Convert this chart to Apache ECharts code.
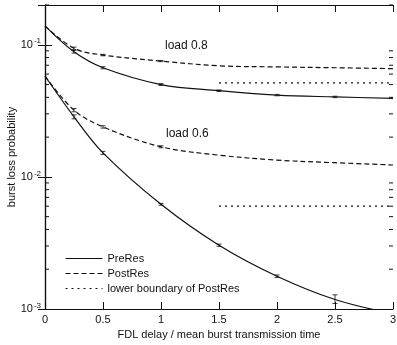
<!DOCTYPE html>
<html><head><meta charset="utf-8">
<script src="https://cdn.jsdelivr.net/npm/echarts@6/dist/echarts.min.js"></script>
<style>html,body{margin:0;padding:0;background:#fff}#c{width:397px;height:345px}</style>
</head><body><div id="c"></div>
<script>
// ---- data ----
const xVals = [0, 0.25, 0.5, 1, 1.5, 2, 2.5, 3];
const preRes08  = [0.139, 0.0885, 0.067, 0.050, 0.0449, 0.0416, 0.0403, 0.0393];
const postRes08 = [0.139, 0.094, 0.0836, 0.0753, 0.0693, 0.068, 0.067, 0.066];
const preRes06  = [0.058, 0.0285, 0.0152, 0.0062, 0.00304, 0.00177, 0.00118, 0.00092];
const postRes06 = [0.058, 0.032, 0.0239, 0.0169, 0.0146, 0.0134, 0.0128, 0.0123];
const lowerX = [1.5, 3];
const lower08 = [0.0515, 0.0515];
const lower06 = [0.0060, 0.0060];
// error bars: [x, low, high]
const errBars = [
  [0.25, 0.0865, 0.0905], [0.25, 0.0920, 0.0960],
  [0.5, 0.0658, 0.0682], [0.5, 0.0825, 0.0847],
  [1, 0.0492, 0.0508], [1, 0.0745, 0.0761],
  [1.5, 0.0443, 0.0455], [2, 0.0411, 0.0421], [2.5, 0.0398, 0.0408],
  [0.25, 0.0275, 0.0295], [0.25, 0.0311, 0.0329],
  [0.5, 0.0148, 0.0156], [0.5, 0.0234, 0.0244],
  [1, 0.0061, 0.0063], [1, 0.0166, 0.0172],
  [1.5, 0.00298, 0.00310], [2, 0.00173, 0.00181], [2.5, 0.00110, 0.00128]
];
const xTicks = ['0', '0.5', '1', '1.5', '2', '2.5', '3'];
const minorTickVals = [];
[0.001, 0.01, 0.1].forEach(d => { for (let m = 2; m <= 9; m++) { const v = m * d; if (v < 0.2 + 1e-9) minorTickVals.push(v); } });

const pairs = (xs, ys) => xs.map((x, i) => [x, ys[i]]);
const FONT = '"Liberation Sans", Arial, sans-serif';

const chart = echarts.init(document.getElementById('c'), null, {renderer: 'canvas'});
const axisLineStyle = {color: '#111', width: 1.2};
const lineBase = (name, data, type) => ({
  name, type: 'line', data, showSymbol: false, symbol: 'none', smooth: 0.35,
  lineStyle: {color: '#111', width: 1.2, type}, itemStyle: {color: '#111'},
  clip: true, z: 3, animation: false
});

chart.setOption({
  animation: false,
  backgroundColor: '#fff',
  textStyle: {fontFamily: FONT, color: '#111'},
  grid: {left: 45, right: 4, top: 5, bottom: 36, containLabel: false, outerBoundsMode: 'none'},
  legend: {
    data: ['PreRes', 'PostRes', 'lower boundary of PostRes'],
    orient: 'vertical', left: 60, top: 248,
    itemWidth: 37, itemHeight: 10, itemGap: 4,
    itemStyle: {opacity: 0},
    lineStyle: {width: 1},
    textStyle: {fontFamily: FONT, fontSize: 11, color: '#111'}
  },
  xAxis: [{
    type: 'value', min: 0, max: 3, interval: 0.5,
    name: 'FDL delay / mean burst transmission time', nameLocation: 'middle', nameGap: 19,
    nameTextStyle: {fontSize: 11, color: '#111', fontFamily: FONT},
    axisLine: {lineStyle: axisLineStyle},
    axisTick: {inside: true, length: 7, lineStyle: {color: '#111'}},
    axisLabel: {fontSize: 11, color: '#111', margin: 5, fontFamily: FONT,
      formatter: v => xTicks[Math.round(v / 0.5)]},
    splitLine: {show: false}
  }, {
    type: 'value', min: 0, max: 3, interval: 0.5, position: 'top',
    axisLine: {lineStyle: axisLineStyle},
    axisTick: {inside: true, length: 7, lineStyle: {color: '#111'}},
    axisLabel: {show: false}, splitLine: {show: false}
  }],
  yAxis: [{
    type: 'log', logBase: 10, min: 0.001, max: 0.2,
    name: 'burst loss probability', nameLocation: 'middle', nameGap: 28, nameMoveOverlap: false,
    nameTextStyle: {fontSize: 11, color: '#111', fontFamily: FONT},
    axisLine: {show: true, lineStyle: axisLineStyle},
    axisTick: {inside: true, length: 7, lineStyle: {color: '#111'}},
    axisLabel: {
      fontSize: 11, color: '#111', margin: 4, fontFamily: FONT, showMaxLabel: false,
      formatter: v => {
        const e = Math.log10(v);
        if (Math.abs(e - Math.round(e)) > 1e-6) return '';
        return '10{s|' + Math.round(e) + '}';
      },
      rich: {s: {fontSize: 8, verticalAlign: 'top', padding: [0, 0, 7, 1], fontFamily: FONT, color: '#111'}}
    },
    splitLine: {show: false}
  }, {
    type: 'log', logBase: 10, min: 0.001, max: 0.2, position: 'right',
    axisLine: {show: true, lineStyle: axisLineStyle},
    axisTick: {inside: true, length: 7, lineStyle: {color: '#111'}},
    axisLabel: {show: false}, splitLine: {show: false}
  }],
  graphic: [
    {type: 'text', left: 165, top: 40, style: {text: 'load 0.8', font: '12px ' + FONT, fill: '#111'}},
    {type: 'text', left: 166, top: 128, style: {text: 'load 0.6', font: '12px ' + FONT, fill: '#111'}}
  ],
  series: [
    lineBase('PreRes', pairs(xVals, preRes08), 'solid'),
    lineBase('PostRes', pairs(xVals, postRes08), [5, 3]),
    lineBase('PreRes', pairs(xVals, preRes06), 'solid'),
    lineBase('PostRes', pairs(xVals, postRes06), [5, 3]),
    Object.assign(lineBase('lower boundary of PostRes', pairs(lowerX, lower08), [2, 4]), {smooth: false}),
    Object.assign(lineBase('lower boundary of PostRes', pairs(lowerX, lower06), [2, 4]), {smooth: false}),
    {
      type: 'custom', name: 'err', data: errBars, z: 4, animation: false, silent: true,
      renderItem: (params, api) => {
        const x = api.value(0);
        const lo = api.coord([x, api.value(1)]);
        const hi = api.coord([x, api.value(2)]);
        const w = 2.5;
        const st = {stroke: '#111', lineWidth: 0.8};
        return {type: 'group', children: [
          {type: 'line', shape: {x1: lo[0], y1: lo[1], x2: hi[0], y2: hi[1]}, style: st},
          {type: 'line', shape: {x1: lo[0] - w, y1: lo[1], x2: lo[0] + w, y2: lo[1]}, style: st},
          {type: 'line', shape: {x1: hi[0] - w, y1: hi[1], x2: hi[0] + w, y2: hi[1]}, style: st}
        ]};
      }
    },
    {
      type: 'custom', name: 'minorTicks', data: minorTickVals.map(v => [v]), z: 5, animation: false, silent: true,
      renderItem: (params, api) => {
        const v = api.value(0);
        const l = api.coord([0, v]);
        const r = api.coord([3, v]);
        const st = {stroke: '#111', lineWidth: 1};
        return {type: 'group', children: [
          {type: 'line', shape: {x1: l[0], y1: l[1], x2: l[0] + 4, y2: l[1]}, style: st},
          {type: 'line', shape: {x1: r[0], y1: r[1], x2: r[0] - 4, y2: r[1]}, style: st}
        ]};
      }
    }
  ]
});
</script></body></html>
